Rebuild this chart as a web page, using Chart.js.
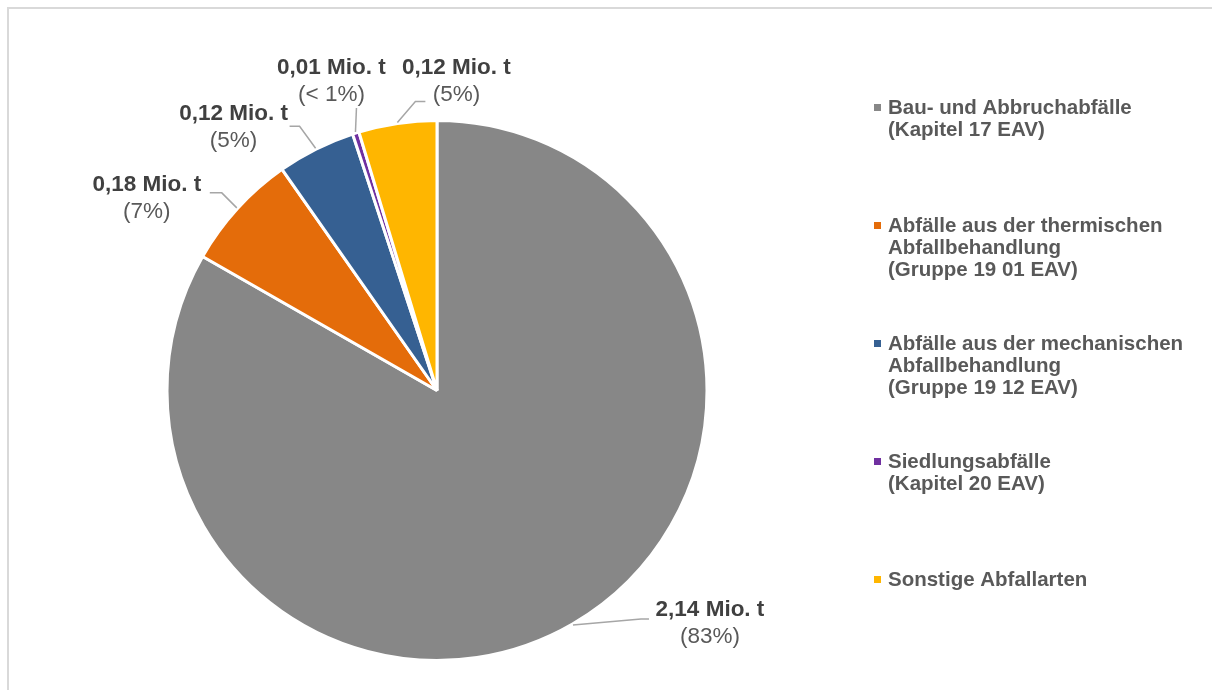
<!DOCTYPE html>
<html>
<head>
<meta charset="utf-8">
<script src="https://cdn.jsdelivr.net/npm/chart.js@4"></script>
<style>
  html, body { margin: 0; padding: 0; background: #ffffff; }
  #wrap { width: 1212px; height: 690px; position: relative; }
</style>
</head>
<body>
<div id="wrap"><canvas id="c" width="1212" height="690"></canvas></div>
<script>
// ---- data ----
const categories = [
  ["Bau- und Abbruchabfälle", "(Kapitel 17 EAV)"],
  ["Abfälle aus der thermischen", "Abfallbehandlung", "(Gruppe 19 01 EAV)"],
  ["Abfälle aus der mechanischen", "Abfallbehandlung", "(Gruppe 19 12 EAV)"],
  ["Siedlungsabfälle", "(Kapitel 20 EAV)"],
  ["Sonstige Abfallarten"]
];
const valuesMioT = [2.14, 0.18, 0.12, 0.01, 0.12];
const colors = ["#878787", "#E46C0A", "#366092", "#7030A0", "#FFB600"];

// ---- label layout (offsets relative to slice edge point) ----
const labelOffsets = [[137, -15], [-90, -23], [-82, -34], [-24, -64], [59, -55]];
const leaderPaths = [
  [[68, -6], [76, -6]],
  [[-15, -15], [-27, -15]],
  [[-16, -22], [-26, -22]],
  [[1, -24]],
  [[18, -21], [28, -21]]
];

const FONT = "'Liberation Sans', Arial, sans-serif";

const framePlugin = {
  id: 'frame',
  beforeDraw(chart) {
    const ctx = chart.ctx;
    ctx.save();
    ctx.fillStyle = '#ffffff';
    ctx.fillRect(0, 0, chart.width, chart.height);
    ctx.strokeStyle = '#d9d9d9';
    ctx.lineWidth = 2;
    ctx.beginPath();
    ctx.moveTo(8, chart.height);
    ctx.lineTo(8, 8);
    ctx.lineTo(chart.width, 8);
    ctx.stroke();
    ctx.restore();
  }
};

const labelPlugin = {
  id: 'pieLabels',
  afterDatasetsDraw(chart) {
    const ctx = chart.ctx;
    const meta = chart.getDatasetMeta(0);
    const data = chart.data.datasets[0].data;
    const total = data.reduce((a, b) => a + b, 0);
    ctx.save();
    meta.data.forEach((arc, i) => {
      const mid = (arc.startAngle + arc.endAngle) / 2;
      const r = arc.outerRadius + 1;
      const ex = arc.x + Math.cos(mid) * r;
      const ey = arc.y + Math.sin(mid) * r;
      // leader line
      ctx.strokeStyle = '#a6a6a6';
      ctx.lineWidth = 1.5;
      ctx.beginPath();
      ctx.moveTo(ex, ey);
      leaderPaths[i].forEach(p => ctx.lineTo(ex + p[0], ey + p[1]));
      ctx.stroke();
      // text
      const lx = ex + labelOffsets[i][0];
      const ly = ey + labelOffsets[i][1];
      const pct = data[i] / total * 100;
      const pctText = pct < 1 ? '(< 1%)' : '(' + Math.round(pct) + '%)';
      const valText = data[i].toFixed(2).replace('.', ',') + ' Mio. t';
      ctx.textAlign = 'center';
      ctx.textBaseline = 'middle';
      ctx.fillStyle = '#404040';
      ctx.font = 'bold 22.5px ' + FONT;
      ctx.fillText(valText, lx, ly);
      ctx.fillStyle = '#595959';
      ctx.font = '22.5px ' + FONT;
      ctx.fillText(pctText, lx, ly + 27);
    });
    ctx.restore();
  }
};

const legendPlugin = {
  id: 'sideLegend',
  afterDraw(chart) {
    const ctx = chart.ctx;
    const labels = chart.data.labels;
    const cols = chart.data.datasets[0].backgroundColor;
    const x0 = 874, tx = 888, y0 = 108, step = 118, lh = 22;
    ctx.save();
    ctx.textAlign = 'left';
    ctx.textBaseline = 'middle';
    ctx.font = 'bold 20.5px ' + FONT;
    labels.forEach((lab, i) => {
      const y = y0 + i * step;
      ctx.fillStyle = cols[i];
      ctx.fillRect(x0, y - 4, 7, 7);
      ctx.fillStyle = '#595959';
      const lines = Array.isArray(lab) ? lab : [lab];
      lines.forEach((ln, k) => ctx.fillText(ln, tx, y + k * lh));
    });
    ctx.restore();
  }
};

new Chart(document.getElementById('c'), {
  type: 'pie',
  data: {
    labels: categories,
    datasets: [{
      data: valuesMioT,
      backgroundColor: colors,
      borderColor: '#ffffff',
      borderWidth: 3,
      radius: 270,
      hoverOffset: 0
    }]
  },
  options: {
    responsive: false,
    animation: false,
    events: [],
    rotation: 0,
    layout: { padding: { left: 100, right: 438, top: 100, bottom: 9 } },
    plugins: {
      legend: { display: false },
      tooltip: { enabled: false }
    }
  },
  plugins: [framePlugin, labelPlugin, legendPlugin]
});
</script>
</body>
</html>
